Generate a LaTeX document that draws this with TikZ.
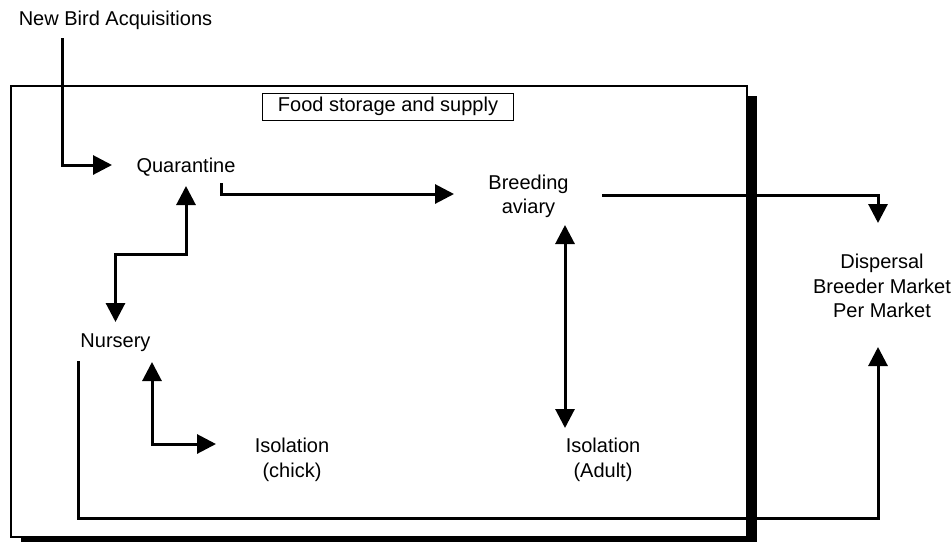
\documentclass[tikz,border=0pt]{standalone}
\usepackage{fontspec}
\setmainfont{Liberation Sans}
\usetikzlibrary{arrows.meta, calc}
\tikzset{>={Triangle[length=19pt, width=19pt]}}

\begin{document}
\begin{tikzpicture}[x=1pt, y=-1pt,
        lbl/.style={inner sep=0pt, align=center, font={\fontsize{20}{24.5}\selectfont}},
        flow/.style={line width=3pt}]
            \useasboundingbox (0,0) rectangle (952,542);

            %building with its shadow
            \fill[black] (21,96) rectangle (757,542);
            \filldraw[fill=white, draw=black, line width=2pt] (11,86) rectangle (747,537);

            %labels
            \node[lbl] (newbird) at (115.5,20) {New Bird Acquisitions};
            \node[lbl, draw, line width=1pt, minimum width=251pt, minimum height=27pt]
                (food) at (388,106.5) {Food storage and supply};
            \node[lbl] (quar) at (186,167) {Quarantine};
            \node[lbl] (breed) at (528.5,196.5) {Breeding\\aviary};
            \node[lbl] (disp) at (882,286) {Dispersal\\Breeder Market\\Per Market};
            \node[lbl] (nurs) at (115.5,343) {Nursery};
            \node[lbl] (isoc) at (292,460) {Isolation\\(chick)};
            \node[lbl] (isoa) at (603,460) {Isolation\\(Adult)};

            %new birds in
            \draw[flow, ->] ($(newbird)+(-53,18)$) |- ($(quar)+(-74,-2)$);

            %quarantine to breeding
            \draw[flow, ->] ($(quar)+(35,16)$) |- ($(breed)+(-74.5,-2.5)$);

            %breeding out to dispersal
            \draw[flow, ->] ($(breed)+(73.5,-1.5)$) -| ($(disp)+(-4,-63)$);

            %breeding and adult isolation
            \draw[flow, <->] ($(breed)+(36.5,28.5)$) -- ($(isoa)+(-38,-32)$);

            %quarantine and nursery
            \draw[flow, <->] ($(quar)+(0,19)$) -- ++(0,68) -| ($(nurs)+(0,-21)$);

            %nursery and chick isolation
            \draw[flow, <->] ($(nurs)+(36.5,19)$) |- ($(isoc)+(-76,-16)$);

            %nursery out to dispersal
            \draw[flow, ->] ($(nurs)+(-37.5,18)$) -- ++(0,157) -| ($(disp)+(-4,61)$);

        \end{tikzpicture}
\end{document}
